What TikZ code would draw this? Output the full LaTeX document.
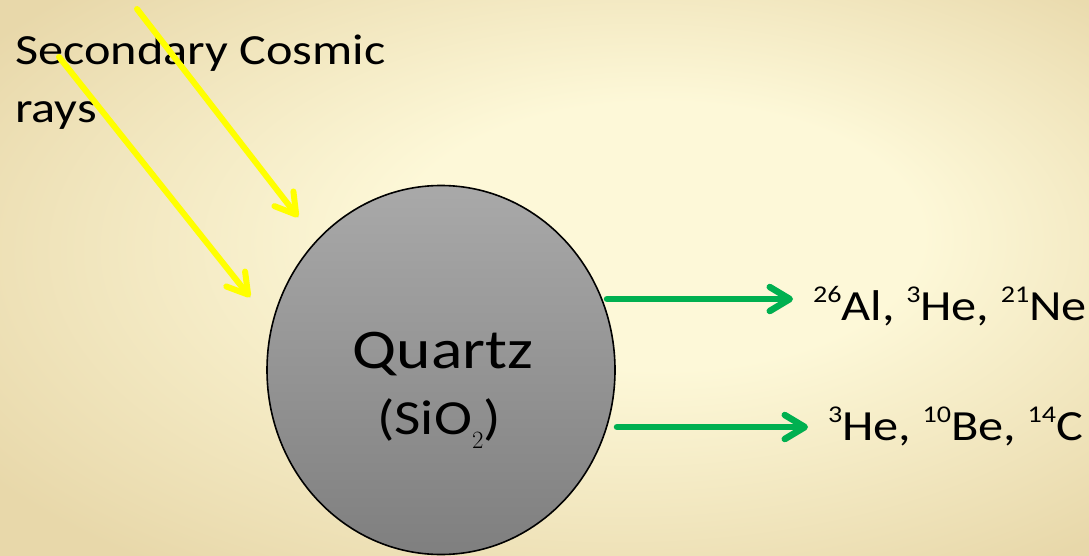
\documentclass[tikz,border=0pt]{standalone}
\usepackage{fontspec}
\setmainfont[FakeStretch=1.17]{Carlito}
\usetikzlibrary{positioning, arrows.meta, shapes.geometric, calc}
\definecolor{bgLight}{HTML}{FDF8D8}
\definecolor{bgDark}{HTML}{E8D8AA}
\definecolor{rayYellow}{HTML}{FFFF00}
\definecolor{prodGreen}{HTML}{00B050}
\definecolor{rockTop}{HTML}{A9A9A9}
\definecolor{rockMid}{HTML}{878787}
\definecolor{rockBot}{HTML}{7F7F7F}
\pgfdeclareradialshading{parchment}{\pgfpoint{7bp}{5bp}}{color(0bp)=(bgLight); color(12bp)=(bgLight); color(34bp)=(bgDark); color(50bp)=(bgDark)}
\newcommand{\iso}[2]{\raisebox{0.4em}{\fontsize{24}{24}\selectfont #1}#2}
\newcommand{\lowtwo}{\raisebox{-14pt}{\fontsize{28}{28}\selectfont$2$}}

\begin{document}
\begin{tikzpicture}[x=1pt, y=-1pt,
  rock/.style={ellipse, draw=black, line width=1.6pt, top color=rockTop,
               middle color=rockMid, bottom color=rockBot,
               minimum width=348pt, minimum height=369pt, inner sep=0pt},
  rocklbl/.style={text=black, inner sep=0pt},
  raylbl/.style={font=\fontsize{43}{58}\selectfont, align=left, inner sep=0pt},
  isolbl/.style={font=\fontsize{43}{48}\selectfont, inner sep=0pt},
  dropshade/.style={preaction={draw=black, opacity=0.2,
                    transform canvas={shift={(2pt,-2.5pt)}}}},
  ray/.style={-{Straight Barb[length=20pt, width=24pt, round]}, rayYellow,
              line width=6pt, line cap=round, dropshade},
  prod/.style={-{Straight Barb[length=20pt, width=24pt, round]}, prodGreen,
               line width=6.5pt, line cap=round, shorten >=20pt, dropshade},
]
  \useasboundingbox (0,0) rectangle (1089,556);
  \shade[shading=parchment] (0,0) rectangle (1089,556);

  \coordinate (ray1_from) at (137,  9);
  \coordinate (ray1_to)   at (298,217);
  \coordinate (ray2_from) at ( 59, 57);
  \coordinate (ray2_to)   at (250,297);
  \coordinate (out1)      at (607,299);
  \coordinate (out2)      at (617,427);

  \node[rock] at (441,370) (quartz) {};
  \node[rocklbl, font=\fontsize{56}{60}\selectfont, anchor=base]
        at (443,368) (qname) {Quartz};
  \node[rocklbl, font=\fontsize{49}{52}\selectfont, anchor=base]
        at (439,434) (qform) {(SiO\lowtwo)};

  % base of a two-line node sits on its last line
  \node[raylbl, anchor=base west] at (15,123) (cosmic) {Secondary Cosmic\\rays};

  \node[isolbl, anchor=base west] at (813,320) (iso1)
        {\iso{26}{Al}, \iso{3}{He}, \iso{21}{Ne}};
  \node[isolbl, anchor=base west] at (828,440) (iso2)
        {\iso{3}{He}, \iso{10}{Be}, \iso{14}{C}};

  % incoming rays
  \draw[ray] (ray1_from) -- (ray1_to);
  \draw[ray] (ray2_from) -- (ray2_to);

  % produced nuclides
  \draw[prod] (out1) -- (iso1.west |- out1);
  \draw[prod] (out2) -- (iso2.west |- out2);
\end{tikzpicture}
\end{document}
